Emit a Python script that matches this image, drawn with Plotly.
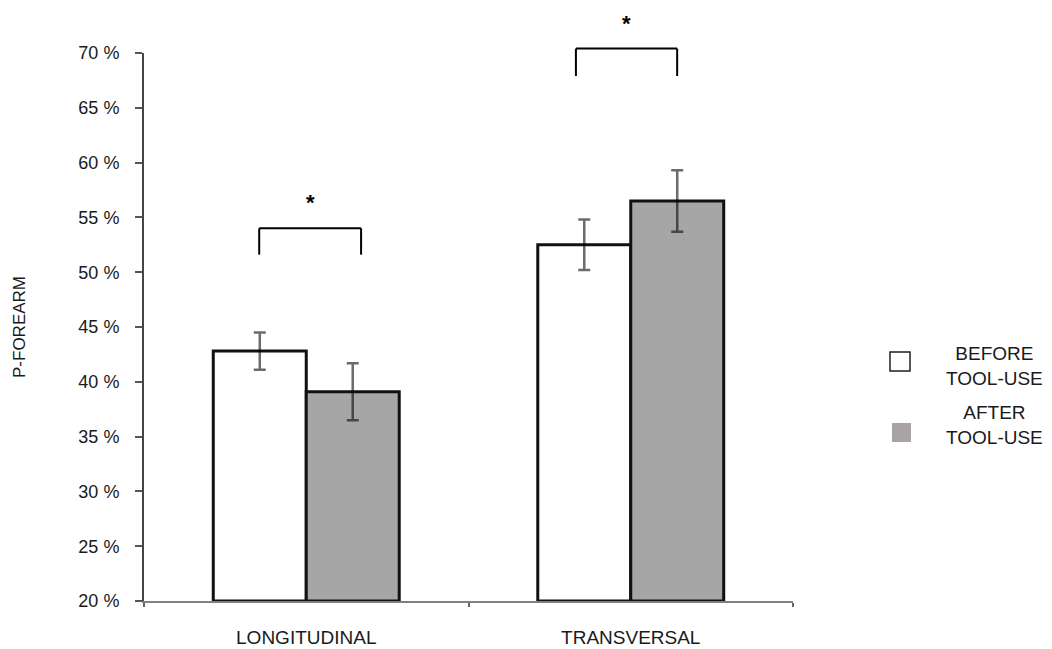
import plotly.graph_objects as go

# ---- data ---------------------------------------------------------------
categories = ["LONGITUDINAL", "TRANSVERSAL"]
before_values = [42.8, 52.5]
after_values = [39.1, 56.5]
before_errors = [1.7, 2.3]
after_errors = [2.6, 2.8]
y_tick_values = [20, 25, 30, 35, 40, 45, 50, 55, 60, 65, 70]
y_tick_labels = [f"{v} %" for v in y_tick_values]
series_names = ["BEFORE<br>TOOL-USE", "AFTER<br>TOOL-USE"]
significance = ["*", "*"]

# ---- styling ------------------------------------------------------------
FONT = "Liberation Sans, Arial, sans-serif"
TEXT = "#1a1a1a"
AFTER_FILL = "#a6a6a6"
ERR_COLOR = "rgba(0,0,0,0.58)"
Y_MIN, Y_MAX = 20, 70

W, H = 1052, 649
M_L, M_R, M_T, M_B = 144, 259, 53, 48
PW, PH = W - M_L - M_R, H - M_T - M_B


def px_x(p):
    """Pixel x -> paper x."""
    return (p - M_L) / PW


def px_y(p):
    """Pixel y -> paper y."""
    return (H - M_B - p) / PH


def val_y(v):
    """Data y value -> paper y (usable above the axis range)."""
    return (v - Y_MIN) / (Y_MAX - Y_MIN)


fig = go.Figure()

# bars rise from the axis floor (20 %) to their value
fig.add_trace(go.Bar(
    x=categories, y=[v - Y_MIN for v in before_values], base=Y_MIN,
    name="BEFORE TOOL-USE",
    marker=dict(color="white", line=dict(color="#111111", width=3)),
    error_y=dict(type="data", array=before_errors, color=ERR_COLOR,
                 thickness=2.5, width=6),
))
fig.add_trace(go.Bar(
    x=categories, y=[v - Y_MIN for v in after_values], base=Y_MIN,
    name="AFTER TOOL-USE",
    marker=dict(color=AFTER_FILL, line=dict(color="#111111", width=3)),
    error_y=dict(type="data", array=after_errors, color=ERR_COLOR,
                 thickness=2.5, width=6),
))

# ---- significance brackets ---------------------------------------------
brackets = [
    # (category index, left offset, right offset, leg bottom, top, star y)
    (0, -0.145, 0.169, 51.6, 54.0, 56.4),
    (1, -0.169, 0.143, 67.9, 70.4, 72.7),
]
shapes = []
annotations = []
for (ci, lo, ro, yb, yt, ys), star in zip(brackets, significance):
    x0, x1 = ci + lo, ci + ro
    line = dict(color="black", width=2)
    for xa, ya, xb, yb2 in [(x0, yb, x0, yt), (x0, yt, x1, yt), (x1, yt, x1, yb)]:
        shapes.append(dict(type="line", xref="x", yref="paper",
                           x0=xa, y0=val_y(ya), x1=xb, y1=val_y(yb2),
                           line=line, layer="above"))
    annotations.append(dict(xref="x", yref="paper", x=(x0 + x1) / 2,
                            y=val_y(ys), text=f"<b>{star}</b>",
                            showarrow=False, xanchor="center", yanchor="middle",
                            font=dict(family=FONT, size=22, color="black")))

# ---- legend (centred two-line labels) ----------------------------------
legend_rows = [
    # square x0, x1, y0, y1 (px), text centre y (px), fill, outline
    (890, 910, 352, 371, 366, "white", "#222222"),
    (892, 911, 423, 442, 425, "#a9a4a4", "rgba(0,0,0,0)"),
]
for (sx0, sx1, sy0, sy1, ty, fill, edge), label in zip(legend_rows, series_names):
    shapes.append(dict(type="rect", xref="paper", yref="paper",
                       x0=px_x(sx0), x1=px_x(sx1), y0=px_y(sy1), y1=px_y(sy0),
                       fillcolor=fill, line=dict(color=edge, width=1.5)))
    annotations.append(dict(xref="paper", yref="paper", x=px_x(994), y=px_y(ty),
                            text=label, showarrow=False, align="center",
                            xanchor="center", yanchor="middle",
                            font=dict(family=FONT, size=19, color=TEXT)))

fig.update_layout(
    width=W, height=H,
    margin=dict(l=M_L, r=M_R, t=M_T, b=M_B, autoexpand=False),
    paper_bgcolor="white", plot_bgcolor="white",
    barmode="group", bargap=0.427, bargroupgap=0,
    showlegend=False,
    shapes=shapes, annotations=annotations,
    font=dict(family=FONT, color=TEXT),
)
fig.update_xaxes(
    type="category", tickson="boundaries", ticks="outside", ticklen=4,
    tickwidth=1.5, tickcolor="#666666", showline=True, linecolor="#808080",
    linewidth=1.5, showgrid=False, zeroline=False,
    tickfont=dict(family=FONT, size=19, color=TEXT), ticklabelstandoff=18,
)
fig.update_yaxes(
    range=[Y_MIN, Y_MAX],
    tickvals=y_tick_values, ticktext=y_tick_labels,
    ticks="outside", ticklen=7, tickwidth=2, tickcolor="#555555",
    showline=True, linecolor="#444444", linewidth=2,
    showgrid=False, zeroline=False,
    tickfont=dict(family=FONT, size=18, color=TEXT), ticklabelstandoff=12,
    title=dict(text="P-FOREARM", standoff=48,
               font=dict(family=FONT, size=17, color=TEXT)),
)

fig.write_html("out.html")
